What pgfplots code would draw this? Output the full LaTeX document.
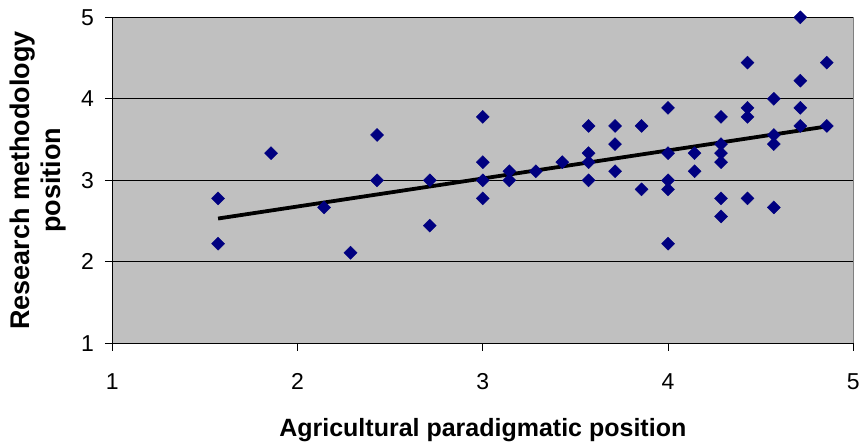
\documentclass[border=0pt]{standalone}
\usepackage{pgfplots}
\pgfplotsset{compat=1.18}
\usepackage{fontspec}
\setmainfont{Liberation Sans}
\definecolor{plotgray}{HTML}{C0C0C0}
\definecolor{framegray}{HTML}{808080}
\definecolor{navyblue}{HTML}{000080}
\begin{document}
\begin{tikzpicture}
\begin{axis}[
  at={(112.3pt,100.7pt)}, anchor=south west,
  scale only axis, width=741pt, height=326pt,
  xmin=1, xmax=5, ymin=1, ymax=5,
  xtick={1,2,3,4,5}, ytick={1,2,3,4,5},
  axis x line*=bottom, axis y line*=left,
  axis line style={black, line width=1pt, -},
  axis background/.style={fill=plotgray, draw=framegray, line width=0.9pt},
  tick align=outside, major tick length=7.5pt,
  tick style={black, line width=0.9pt},
  ymajorgrids, major grid style={black, line width=0.8pt},
  /pgf/number format/assume math mode=true,
  tick label style={font=\fontsize{23}{26}\selectfont},
  xticklabel style={anchor=north, inner sep=0pt, yshift=-22.2pt},
  yticklabel style={anchor=east, inner sep=0pt, xshift=-10.8pt},
  xlabel={Agricultural paradigmatic position},
  ylabel={Research methodology\\position},
  every axis x label/.style={at={(axis description cs:0.5,-0.2874)}, anchor=base, inner sep=0pt, font=\bfseries\fontsize{25}{31}\selectfont},
  every axis y label/.style={at={(axis description cs:-0.0996,0.5)}, rotate=90, anchor=center, inner sep=0pt, align=center, font=\bfseries\fontsize{27}{31}\selectfont},
  clip=false,
]
\addplot[only marks, mark=square*, mark size=4.6pt, mark options={rotate=45, fill=navyblue, draw=navyblue}] coordinates {
(1.571,2.778) (1.571,2.222) (1.857,3.333) (2.143,2.667) (2.286,2.111)
(2.429,3.556) (2.429,3.0) (2.714,3.0) (2.714,2.444)
(3.0,3.778) (3.0,3.222) (3.0,3.0) (3.0,2.778)
(3.143,3.111) (3.143,3.0) (3.286,3.111) (3.429,3.222)
(3.571,3.667) (3.571,3.333) (3.571,3.222) (3.571,3.0)
(3.714,3.667) (3.714,3.444) (3.714,3.111)
(3.857,3.667) (3.857,2.889)
(4.0,3.889) (4.0,3.333) (4.0,3.0) (4.0,2.889) (4.0,2.222)
(4.143,3.333) (4.143,3.111)
(4.286,3.778) (4.286,3.444) (4.286,3.333) (4.286,3.222) (4.286,2.778) (4.286,2.556)
(4.429,4.444) (4.429,3.889) (4.429,3.778) (4.429,2.778)
(4.571,4.0) (4.571,3.556) (4.571,3.444) (4.571,2.667)
(4.714,5.0) (4.714,4.222) (4.714,3.889) (4.714,3.667)
(4.857,4.444) (4.857,3.667)
};
\addplot[black, line width=3.8pt, no marks] coordinates {(1.571,2.531) (4.857,3.661)};
\end{axis}
\pgfresetboundingbox
\path (0,0) rectangle (862pt,444pt);
\end{tikzpicture}
\end{document}
